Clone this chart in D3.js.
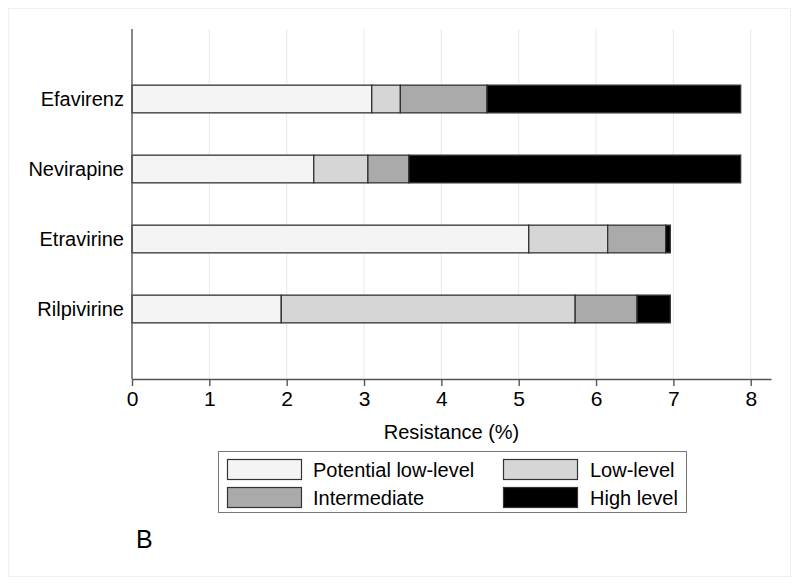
<!DOCTYPE html>
<html>
<head>
<meta charset="utf-8">
<script src="https://cdn.jsdelivr.net/npm/d3@7"></script>
<style>
  html, body { margin: 0; padding: 0; background: #fff; }
  svg { display: block; }
  text { font-family: "Liberation Sans", Arial, Helvetica, sans-serif; fill: #000; }
</style>
</head>
<body>
<svg id="chart" width="800" height="586"></svg>
<script>
const categories = ["Efavirenz", "Nevirapine", "Etravirine", "Rilpivirine"];
const seriesNames = ["Potential low-level", "Low-level", "Intermediate", "High level"];
const potentialLow = [3.10, 2.35, 5.13, 1.93];
const lowLevel = [0.37, 0.70, 1.02, 3.80];
const intermediate = [1.12, 0.53, 0.75, 0.80];
const highLevel = [3.28, 4.29, 0.06, 0.43];
const xTicks = [0, 1, 2, 3, 4, 5, 6, 7, 8];
const xTitle = "Resistance (%)";
const panelLabel = "B";

const colors = ["#f4f4f4", "#d6d6d6", "#aaaaaa", "#000000"];

const rows = categories.map((c, i) => ({
  cat: c, idx: i,
  [seriesNames[0]]: potentialLow[i],
  [seriesNames[1]]: lowLevel[i],
  [seriesNames[2]]: intermediate[i],
  [seriesNames[3]]: highLevel[i]
}));

const svg = d3.select("#chart");

// outer frame
svg.append("rect").attr("x", 8.5).attr("y", 8.5).attr("width", 782).attr("height", 568)
  .attr("fill", "#fff").attr("stroke", "#f0f0f0").attr("stroke-width", 1);

const x = d3.scaleLinear().domain([0, 8.262]).range([132, 771]);
const y = d3.scaleLinear().domain([0, categories.length + 1]).range([29, 379]);
const barH = 27.7;

// gridlines
svg.append("g").selectAll("line").data(xTicks.filter(t => t > 0)).join("line")
  .attr("x1", d => x(d)).attr("x2", d => x(d))
  .attr("y1", y(0)).attr("y2", y(categories.length + 1))
  .attr("stroke", "#e9eff1").attr("stroke-width", 1.2);

// bars
const stack = d3.stack().keys(seriesNames);
const layers = stack(rows);
svg.append("g").selectAll("g").data(layers).join("g")
  .attr("fill", (d, i) => colors[i])
  .selectAll("rect").data(d => d).join("rect")
  .attr("x", d => x(d[0]))
  .attr("width", d => x(d[1]) - x(d[0]))
  .attr("y", d => y(d.data.idx + 1) - barH / 2)
  .attr("height", barH)
  .attr("stroke", "#333")
  .attr("stroke-width", 1.3);

// x axis
const xAxis = svg.append("g").attr("transform", `translate(0,${y(categories.length + 1)})`)
  .call(d3.axisBottom(x).tickValues(xTicks).tickFormat(d3.format("d")).tickSize(7).tickSizeOuter(0).tickPadding(5));
xAxis.select(".domain").attr("stroke", "#555").attr("stroke-width", 1.4);
xAxis.selectAll(".tick line").attr("stroke", "#555").attr("stroke-width", 1.4);
xAxis.selectAll(".tick text").attr("font-size", 21).attr("font-family", "Liberation Sans, Arial, sans-serif").attr("fill", "#000");

// y axis line
svg.append("line").attr("x1", 132).attr("x2", 132)
  .attr("y1", y(0)).attr("y2", y(categories.length + 1))
  .attr("stroke", "#555").attr("stroke-width", 1.4);

// y labels
svg.append("g").selectAll("text").data(categories).join("text")
  .attr("x", 124).attr("y", (d, i) => y(i + 1))
  .attr("dy", "0.36em").attr("text-anchor", "end")
  .attr("font-size", 20).text(d => d);

// x title
svg.append("text").attr("x", (132 + 771) / 2).attr("y", 439)
  .attr("text-anchor", "middle").attr("font-size", 20).text(xTitle);

// legend
const lg = svg.append("g");
lg.append("rect").attr("x", 218.5).attr("y", 451.5).attr("width", 468).attr("height", 61)
  .attr("fill", "#fff").attr("stroke", "#777").attr("stroke-width", 1);
const legPos = [
  {sx: 227, sy: 459, tx: 313, ty: 477},
  {sx: 503, sy: 459, tx: 590, ty: 477},
  {sx: 227, sy: 487, tx: 313, ty: 505},
  {sx: 503, sy: 487, tx: 590, ty: 505}
];
seriesNames.forEach((s, i) => {
  const p = legPos[i];
  lg.append("rect").attr("x", p.sx + 0.5).attr("y", p.sy + 0.5).attr("width", 74).attr("height", 20)
    .attr("fill", colors[i]).attr("stroke", "#333").attr("stroke-width", 1.2);
  lg.append("text").attr("x", p.tx).attr("y", p.ty).attr("font-size", 20).text(s);
});

// panel label
svg.append("text").attr("x", 136).attr("y", 548).attr("font-size", 25).text(panelLabel);
</script>
</body>
</html>
